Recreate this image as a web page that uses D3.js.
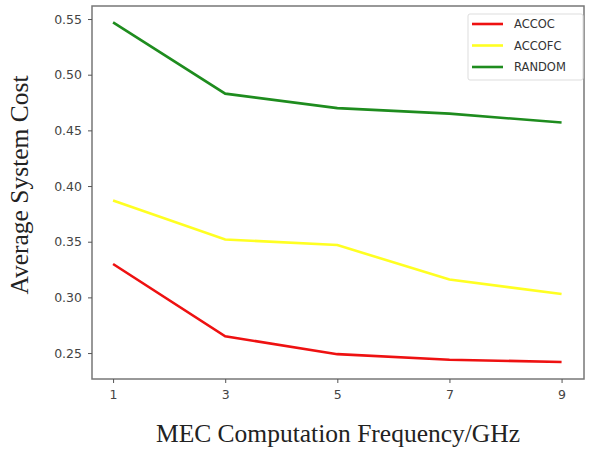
<!DOCTYPE html>
<html>
<head>
<meta charset="utf-8">
<script src="https://d3js.org/d3.v7.min.js"></script>
<style>
  body { margin: 0; background: #fff; }
  .tick text { font-family: "DejaVu Sans", sans-serif; font-size: 12.5px; fill: #444; }
</style>
</head>
<body>
<svg id="chart" width="590" height="449"></svg>
<script>
// chart data
const freqs = [1, 3, 5, 7, 9];
const accoc = [0.330, 0.265, 0.249, 0.244, 0.242];
const accofc = [0.387, 0.352, 0.347, 0.316, 0.303];
const random = [0.547, 0.483, 0.470, 0.465, 0.457];
const yTicks = [0.25, 0.30, 0.35, 0.40, 0.45, 0.50, 0.55];
const seriesNames = ["ACCOC", "ACCOFC", "RANDOM"];
const seriesColors = ["#ee1111", "#ffff22", "#1e8c1e"];

const svg = d3.select("#chart");
const plotL = 92, plotR = 584, plotT = 6, plotB = 379;

const x = d3.scaleLinear().domain([0.624, 9.4]).range([plotL, plotR]);
const y = d3.scaleLinear().domain([0.2267, 0.5617]).range([plotB, plotT]);

// frame
svg.append("rect")
  .attr("x", plotL).attr("y", plotT)
  .attr("width", plotR - plotL).attr("height", plotB - plotT)
  .attr("fill", "none").attr("stroke", "#777").attr("stroke-width", 1.5);

const xAxis = svg.append("g")
  .attr("transform", `translate(0,${plotB})`)
  .call(d3.axisBottom(x).tickValues(freqs).tickSize(4).tickPadding(7).tickFormat(d3.format("d")));
const yAxis = svg.append("g")
  .attr("transform", `translate(${plotL},0)`)
  .call(d3.axisLeft(y).tickValues(yTicks).tickSize(4).tickPadding(6).tickFormat(d3.format(".2f")));
[xAxis, yAxis].forEach(a => {
  a.select(".domain").remove();
  a.selectAll(".tick line").attr("stroke", "#555");
});

const line = d3.line().x((d, i) => x(freqs[i])).y(d => y(d));
[accoc, accofc, random].forEach((vals, i) => {
  svg.append("path")
    .datum(vals)
    .attr("d", line)
    .attr("fill", "none")
    .attr("stroke", seriesColors[i])
    .attr("stroke-width", 2.6);
});

// legend
const lg = svg.append("g");
lg.append("rect")
  .attr("x", 468).attr("y", 14).attr("width", 115).attr("height", 66)
  .attr("fill", "#fff").attr("stroke", "#ddd").attr("rx", 2);
seriesNames.forEach((name, i) => {
  const yy = 24 + i * 21.5;
  lg.append("line")
    .attr("x1", 472).attr("x2", 503).attr("y1", yy).attr("y2", yy)
    .attr("stroke", seriesColors[i]).attr("stroke-width", 2.6);
  lg.append("text")
    .attr("x", 514).attr("y", yy + 4)
    .attr("font-family", "DejaVu Sans, sans-serif")
    .attr("font-size", 11.5).attr("fill", "#333")
    .text(name);
});

// axis titles
svg.append("text")
  .attr("x", 338).attr("y", 442)
  .attr("text-anchor", "middle")
  .attr("font-family", "Liberation Serif, Times New Roman, serif")
  .attr("font-size", 25.5).attr("fill", "#222")
  .text("MEC Computation Frequency/GHz");
svg.append("text")
  .attr("transform", "translate(28,185) rotate(-90)")
  .attr("text-anchor", "middle")
  .attr("font-family", "Liberation Serif, Times New Roman, serif")
  .attr("font-size", 25.5).attr("fill", "#222")
  .text("Average System Cost");
</script>
</body>
</html>
